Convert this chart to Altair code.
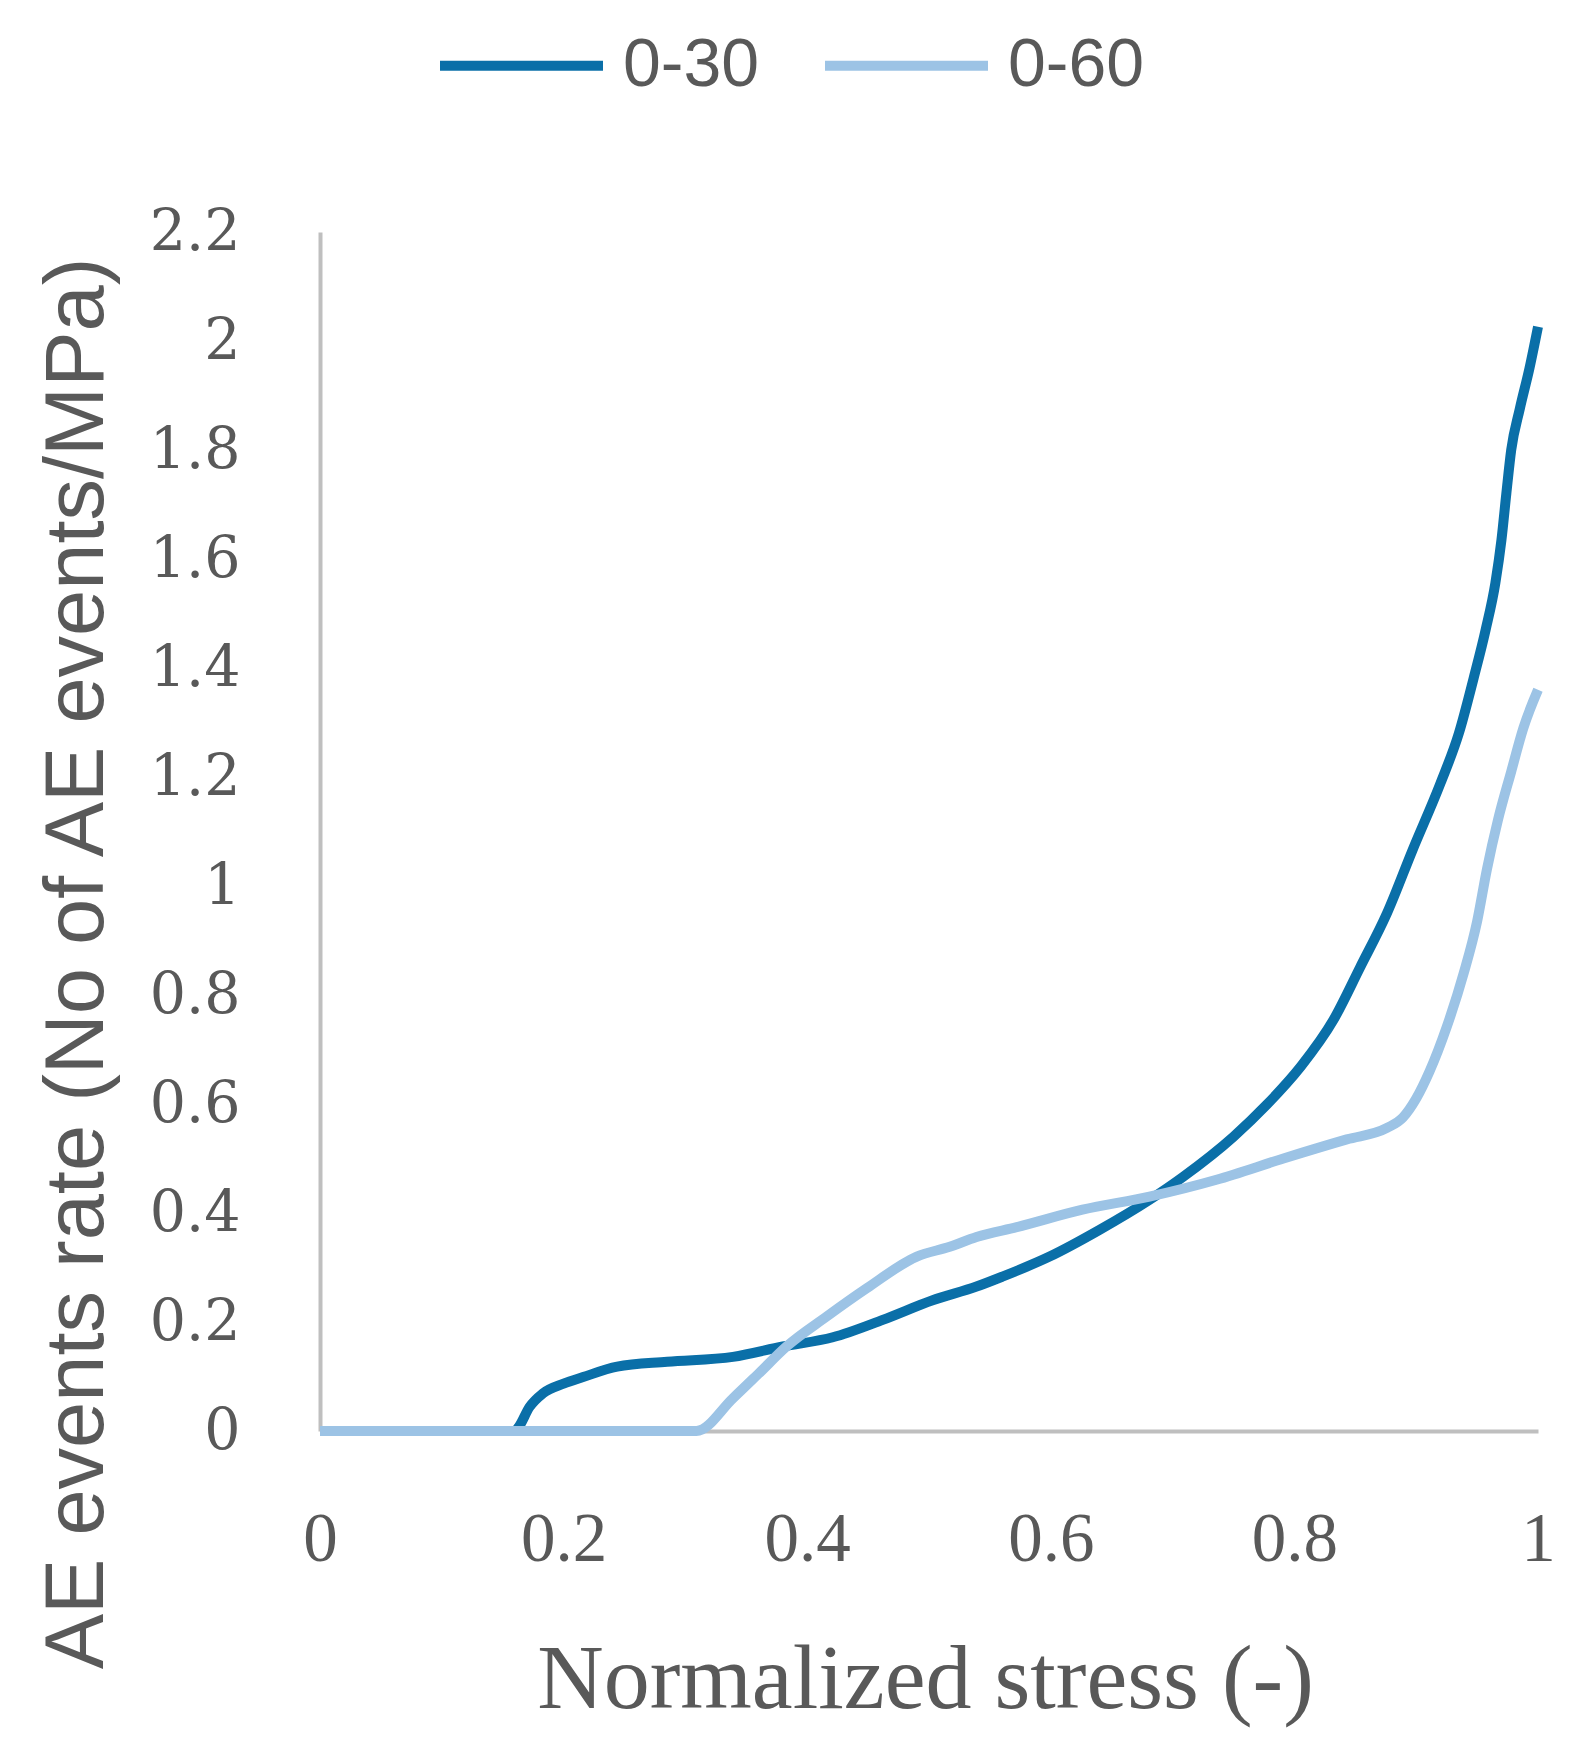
import altair as alt
import pandas as pd

# 0-30 series
x_030 = [0, 0.16, 0.163, 0.172, 0.183, 0.200, 0.216, 0.244, 0.285, 0.339, 0.380, 0.421,
         0.462, 0.503, 0.539, 0.560, 0.599, 0.640, 0.681, 0.709, 0.750, 0.777, 0.805,
         0.832, 0.854, 0.876, 0.897, 0.920, 0.935, 0.947, 0.957, 0.965, 0.970, 0.974,
         0.978, 0.985, 0.993, 1.0]
y_030 = [0, 0, 0.007, 0.044, 0.069, 0.087, 0.099, 0.118, 0.127, 0.136, 0.155, 0.172,
         0.204, 0.240, 0.265, 0.283, 0.320, 0.369, 0.424, 0.467, 0.540, 0.598, 0.668,
         0.754, 0.851, 0.950, 1.066, 1.189, 1.280, 1.380, 1.470, 1.556, 1.635, 1.720,
         1.800, 1.875, 1.950, 2.026]

# 0-60 series
x_060 = [0, 0.309, 0.339, 0.360, 0.383, 0.416, 0.449, 0.490, 0.517, 0.539, 0.572, 0.626,
         0.681, 0.736, 0.791, 0.843, 0.876, 0.889, 0.900, 0.911, 0.925, 0.939, 0.950,
         0.958, 0.967, 0.978, 0.988, 1.0]
y_060 = [0, 0, 0.060, 0.105, 0.155, 0.210, 0.262, 0.320, 0.338, 0.356, 0.374, 0.406,
         0.430, 0.461, 0.500, 0.535, 0.556, 0.575, 0.610, 0.660, 0.741, 0.840, 0.935,
         1.030, 1.120, 1.210, 1.290, 1.360]

series_names = ["0-30", "0-60"]
series_colors = ["#0a6fa8", "#9cc3e5"]

rows = []
for i, (xv, yv) in enumerate(zip(x_030, y_030)):
    rows.append({"series": series_names[0], "order": i, "stress": xv, "rate": yv})
for i, (xv, yv) in enumerate(zip(x_060, y_060)):
    rows.append({"series": series_names[1], "order": i, "stress": xv, "rate": yv})
df = pd.DataFrame(rows)

x_ticks = [0, 0.2, 0.4, 0.6, 0.8, 1]
y_ticks = [0, 0.2, 0.4, 0.6, 0.8, 1, 1.2, 1.4, 1.6, 1.8, 2, 2.2]

chart = alt.Chart(df).mark_line(strokeWidth=10, interpolate="monotone").encode(
    x=alt.X("stress:Q",
            scale=alt.Scale(domain=[0, 1], nice=False, zero=False),
            axis=alt.Axis(values=x_ticks, title="Normalized stress (-)",
                          grid=False, ticks=False,
                          domainColor="#bfbfbf", domainWidth=4,
                          labelFont="Liberation Serif", labelFontSize=69,
                          labelColor="#595959", labelPadding=74,
                          labelFlush=False, labelExpr="format(datum.value, '~g')",
                          titleFont="Liberation Serif", titleFontSize=92,
                          titleFontWeight="normal", titleColor="#595959",
                          titleX=605, titleY=276, titleBaseline="alphabetic",
                          titleAnchor="middle")),
    y=alt.Y("rate:Q",
            scale=alt.Scale(domain=[0, 2.2], nice=False),
            axis=alt.Axis(values=y_ticks, title="AE events rate (No of AE events/MPa)",
                          grid=False, ticks=False,
                          domainColor="#bfbfbf", domainWidth=4,
                          labelFont="DejaVu Serif", labelFontSize=57,
                          labelColor="#595959", labelPadding=80,
                          labelFlush=False, labelExpr="format(datum.value, '~g')",
                          titleFont="Liberation Sans", titleFontSize=83,
                          titleFontWeight="normal", titleColor="#595959",
                          titleAngle=270, titleX=-218, titleY=731,
                          titleBaseline="alphabetic", titleAlign="center")),
    color=alt.Color("series:N",
                    scale=alt.Scale(domain=series_names, range=series_colors),
                    legend=alt.Legend(title=None, orient="none", direction="horizontal",
                                      legendX=115, legendY=-253,
                                      symbolType="stroke", symbolSize=26569,
                                      symbolStrokeWidth=10, labelFont="Liberation Sans",
                                      labelFontSize=68, labelColor="#595959",
                                      labelOffset=15, columnPadding=45, padding=0)),
    order="order:Q",
).properties(
    width=1218,
    height=1199,
    autosize=alt.AutoSizeParams(type="none"),
    padding={"left": 312, "top": 224, "right": 44, "bottom": 300},
    background="white",
).configure_view(strokeWidth=0, stroke="transparent")

chart.save("out.html", embed_options={"renderer": "svg", "actions": False})
